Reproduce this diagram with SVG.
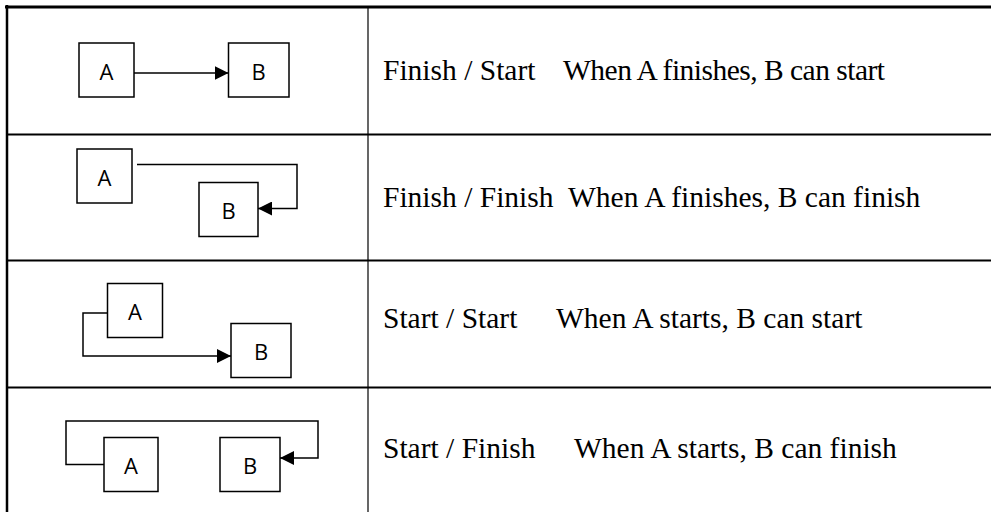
<svg xmlns="http://www.w3.org/2000/svg" width="991" height="512" viewBox="0 0 991 512">
<style>
.box{fill:#fff;stroke:#000;stroke-width:1.5}
.lbl{font-family:"Open Sans","DejaVu Sans",sans-serif;font-size:22px;fill:#000;text-anchor:middle}
.con{fill:none;stroke:#000;stroke-width:1.5}
.txt{font-family:"Liberation Serif","Times New Roman",serif;font-size:29.5px;fill:#000}
.grid{stroke:#000;fill:none}
</style>
<defs>
<marker id="ah" markerUnits="userSpaceOnUse" markerWidth="15" markerHeight="14" refX="14" refY="7" orient="auto">
<path d="M0,0 L14,7 L0,14 Z" fill="#000"/>
</marker>
</defs>
<rect width="991" height="512" fill="#fff"/>
<g id="table">
<line class="grid" x1="5" y1="7" x2="991" y2="7" stroke-width="3"/>
<line class="grid" x1="7" y1="5" x2="7" y2="512" stroke-width="2.5"/>
<line class="grid" x1="7" y1="134.5" x2="991" y2="134.5" stroke-width="2"/>
<line class="grid" x1="7" y1="260.5" x2="991" y2="260.5" stroke-width="2"/>
<line class="grid" x1="7" y1="387.5" x2="991" y2="387.5" stroke-width="2"/>
<line class="grid" x1="368" y1="7" x2="368" y2="512" stroke-width="1.2"/>
</g>
<g id="r1A"><rect class="box" x="79" y="43" width="55" height="54"/><text class="lbl" x="106.5" y="80">A</text></g>
<g id="r1B"><rect class="box" x="228.5" y="43" width="60.5" height="54"/><text class="lbl" x="258.5" y="80">B</text></g>
<g id="r2A"><rect class="box" x="77" y="149" width="55" height="54"/><text class="lbl" x="104.5" y="185.5">A</text></g>
<g id="r2B"><rect class="box" x="199" y="182.5" width="59" height="54"/><text class="lbl" x="228.5" y="219">B</text></g>
<g id="r3A"><rect class="box" x="107.5" y="283.5" width="55" height="54"/><text class="lbl" x="135" y="320">A</text></g>
<g id="r3B"><rect class="box" x="231" y="323.5" width="60" height="54"/><text class="lbl" x="261" y="360">B</text></g>
<g id="r4A"><rect class="box" x="104" y="437.5" width="54" height="54"/><text class="lbl" x="131" y="474">A</text></g>
<g id="r4B"><rect class="box" x="220" y="437.5" width="60" height="54"/><text class="lbl" x="250" y="474">B</text></g>
<g id="connectors">
<path class="con" d="M134,73 H228.5" marker-end="url(#ah)"/>
<path class="con" d="M137,164.5 H297 V208.5 H258" marker-end="url(#ah)"/>
<path class="con" d="M107.5,313 H83 V356 H231" marker-end="url(#ah)"/>
<path class="con" d="M104,464.5 H66 V421 H318 V458 H280" marker-end="url(#ah)"/>
</g>
<g id="texts">
<text class="txt" x="383" y="80">Finish / Start</text>
<text class="txt" x="563" y="80" textLength="322" lengthAdjust="spacing">When A finishes, B can start</text>
<text class="txt" x="383" y="207">Finish / Finish</text>
<text class="txt" x="568" y="207">When A finishes, B can finish</text>
<text class="txt" x="383" y="328">Start / Start</text>
<text class="txt" x="556" y="328">When A starts, B can start</text>
<text class="txt" x="383" y="458">Start / Finish</text>
<text class="txt" x="574" y="458">When A starts, B can finish</text>
</g>
</svg>
